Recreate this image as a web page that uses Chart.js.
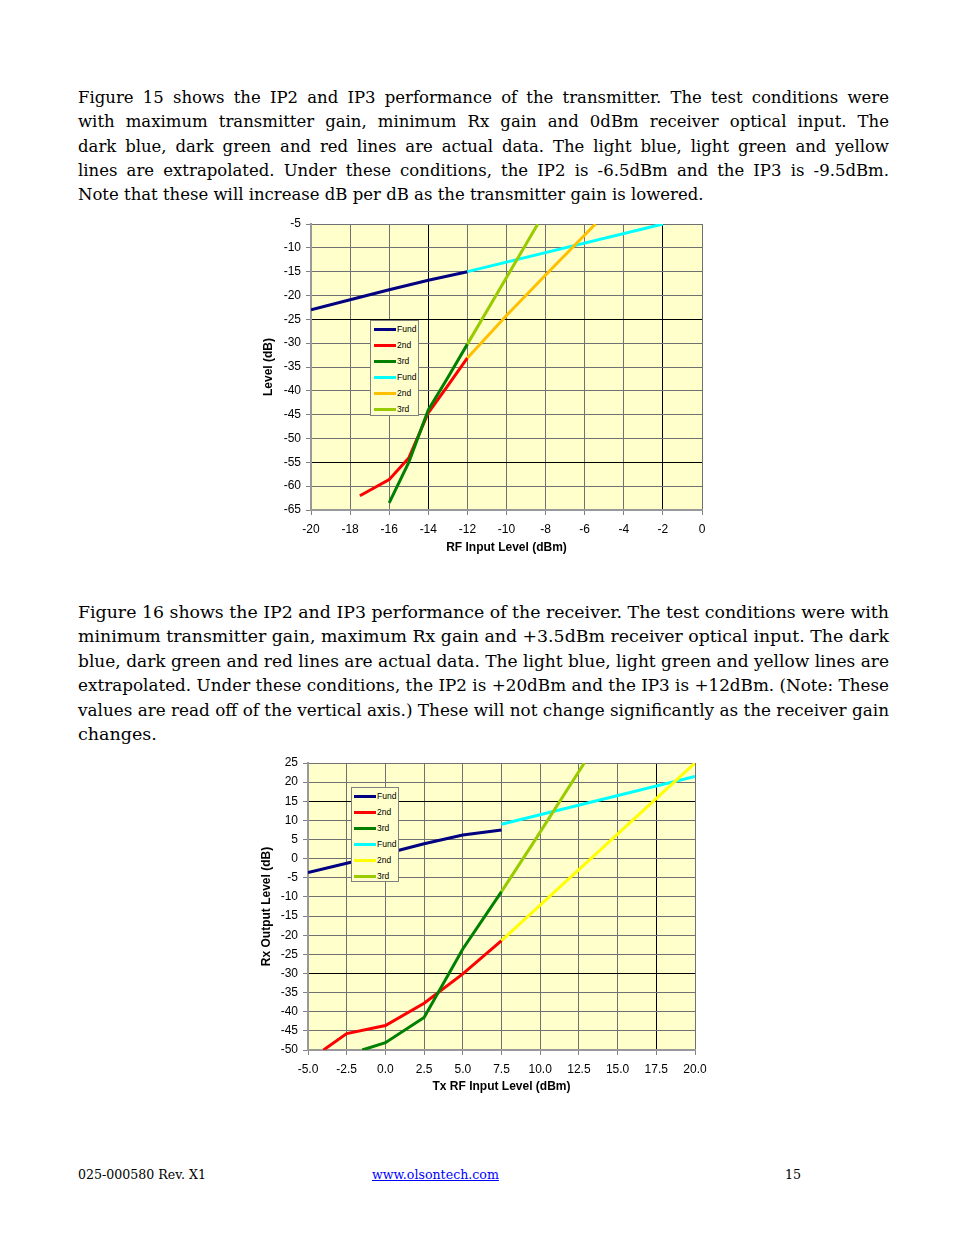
<!DOCTYPE html>
<html>
<head>
<meta charset="utf-8">
<script src="https://cdn.jsdelivr.net/npm/chart.js@4.4.1/dist/chart.umd.min.js"></script>
<style>
html, body { margin: 0; padding: 0; background: #fff; }
body { width: 954px; height: 1235px; position: relative; overflow: hidden; font-family: 'DejaVu Serif', serif; color: #000; }
.para { position: absolute; left: 78px; width: 811px; }
.ln { white-space: nowrap; }
.ln span { display: inline-block; transform-origin: 0 50%; }
.chartbox { position: absolute; }
.legend { position: absolute; background: #FFFFCC; border: 1px solid #808080; box-sizing: border-box;
  font-family: 'Liberation Sans', Arial, sans-serif; font-size: 8.5px; }
.legend div { height: 16px; display: flex; align-items: center; }
.legend i { display: inline-block; width: 22px; height: 3px; margin-right: 1px; }
.foot { position: absolute; top: 1167px; font-size: 12.6px; line-height: 16px; }
.foot a { color: #0000ff; }
</style>
</head>
<body>

<div class="para" id="p1" style="top:86px; font-size:16.5px; line-height:24.3px;">
  <div class="ln"><span>Figure 15 shows the IP2 and IP3 performance of the transmitter. The test conditions were</span></div>
  <div class="ln"><span>with maximum transmitter gain, minimum Rx gain and 0dBm receiver optical input. The</span></div>
  <div class="ln"><span>dark blue, dark green and red lines are actual data. The light blue, light green and yellow</span></div>
  <div class="ln"><span>lines are extrapolated. Under these conditions, the IP2 is -6.5dBm and the IP3 is -9.5dBm.</span></div>
  <div class="ln last"><span>Note that these will increase dB per dB as the transmitter gain is lowered.</span></div>
</div>

<div class="chartbox" style="left:258px; top:214px;"><canvas id="fig15" width="460" height="350"></canvas></div>
<div class="legend" id="leg15" style="left:370px; top:320px; width:49px; height:96px; padding-left:3px;"></div>

<div class="para" id="p2" style="top:600px; font-size:17.5px; line-height:24.4px;">
  <div class="ln"><span>Figure 16 shows the IP2 and IP3 performance of the receiver. The test conditions were with</span></div>
  <div class="ln"><span>minimum transmitter gain, maximum Rx gain and +3.5dBm receiver optical input. The dark</span></div>
  <div class="ln"><span>blue, dark green and red lines are actual data. The light blue, light green and yellow lines are</span></div>
  <div class="ln"><span>extrapolated. Under these conditions, the IP2 is +20dBm and the IP3 is +12dBm. (Note: These</span></div>
  <div class="ln"><span>values are read off of the vertical axis.) These will not change significantly as the receiver gain</span></div>
  <div class="ln last"><span>changes.</span></div>
</div>

<div class="chartbox" style="left:256px; top:752px;"><canvas id="fig16" width="456" height="348"></canvas></div>
<div class="legend" id="leg16" style="left:351px; top:787px; width:48px; height:95px; padding-left:2px;"></div>

<div class="foot" style="left:78px;">025-000580 Rev. X1</div>
<div class="foot" style="left:372px;"><a href="#">www.olsontech.com</a></div>
<div class="foot" style="left:785px;">15</div>

<script>
// ---- Figure 15 (transmitter) ----
const SERIES_LABELS = ['Fund', '2nd', '3rd', 'Fund', '2nd', '3rd'];

const TX_FUND_X = [-20, -18, -16, -15, -14, -13, -12];
const TX_FUND_Y = [-23, -20.9, -18.8, -17.8, -16.8, -15.9, -15];
const TX_2ND_X = [-17.5, -16, -15, -14, -13, -12];
const TX_2ND_Y = [-62, -58.6, -54.1, -44.6, -38.9, -33.1];
const TX_3RD_X = [-16, -15, -14, -13, -12];
const TX_3RD_Y = [-63.5, -55, -44, -37.2, -30.2];
const TX_FUND_EXT_X = [-12, -2];
const TX_FUND_EXT_Y = [-15, -5];
const TX_2ND_EXT_X = [-12, -10, -8, -5.45];
const TX_2ND_EXT_Y = [-33.1, -24.2, -15.7, -5];
const TX_3RD_EXT_X = [-12, -10, -8.4];
const TX_3RD_EXT_Y = [-30.2, -16.2, -5];

// ---- Figure 16 (receiver) ----
const RX_FUND_X = [-5, -2.5, 0, 2.5, 5, 7.5];
const RX_FUND_Y = [-3.6, -1.2, 1.3, 3.9, 6.2, 7.5];
const RX_2ND_X = [-4, -2.5, 0, 2.5, 5, 7.5];
const RX_2ND_Y = [-50, -45.7, -43.6, -37.8, -30.1, -21.4];
const RX_3RD_X = [-1.5, 0, 2.5, 5, 7.5];
const RX_3RD_Y = [-50, -48.1, -41.5, -23.6, -8.6];
const RX_FUND_EXT_X = [7.5, 20];
const RX_FUND_EXT_Y = [9, 21.5];
const RX_2ND_EXT_X = [7.5, 20];
const RX_2ND_EXT_Y = [-21.4, 25];
const RX_3RD_EXT_X = [7.5, 9.5, 12.85];
const RX_3RD_EXT_Y = [-8.6, 3.8, 25];

const TX_COLORS = ['#000080', '#FF0000', '#008000', '#00FFFF', '#FFC000', '#99CC00'];
const RX_COLORS = ['#000080', '#FF0000', '#008000', '#00FFFF', '#FFFF00', '#99CC00'];

Chart.defaults.font.family = "'Liberation Sans', Arial, sans-serif";
Chart.defaults.color = '#000';

const pts = (xs, ys) => xs.map((x, i) => ({ x, y: ys[i] }));

const plotBg = {
  id: 'plotBg',
  beforeDraw(chart) {
    const { ctx, chartArea: a } = chart;
    ctx.save();
    ctx.fillStyle = '#FFFFCC';
    ctx.fillRect(a.left, a.top, a.right - a.left, a.bottom - a.top);
    ctx.restore();
  }
};

function gridColor(dark) {
  return c => (c.tick && dark.includes(c.tick.value)) ? '#000' : '#707070';
}

function makeChart(id, series, colors, opt) {
  const datasets = series.map((s, i) => ({
    label: SERIES_LABELS[i],
    data: pts(s[0], s[1]),
    borderColor: colors[i],
    backgroundColor: colors[i],
    borderWidth: 3,
    pointRadius: 0,
    tension: 0,
    order: series.length - i
  }));

  new Chart(document.getElementById(id), {
    type: 'line',
    data: { datasets },
    plugins: [plotBg],
    options: {
      responsive: false,
      animation: false,
      devicePixelRatio: 1,
      layout: { padding: { top: opt.padTop, right: opt.padRight, left: 0, bottom: 0 } },
      plugins: { legend: { display: false }, tooltip: { enabled: false } },
      scales: {
        x: {
          type: 'linear',
          min: opt.xMin, max: opt.xMax,
          afterFit: s => { s.height = opt.xHeight; s.paddingLeft = 0; s.paddingRight = 0; },
          border: { color: '#999', width: 2 },
          grid: { color: gridColor(opt.darkX), tickColor: '#808080', tickLength: 5 },
          ticks: { stepSize: opt.xStep, autoSkip: false, maxRotation: 0, padding: 7,
                   font: { size: 12 }, callback: opt.xFmt },
          title: { display: true, text: opt.xTitle, font: { size: 12, weight: 'bold' },
                   padding: { top: 0, bottom: opt.xTitlePad } }
        },
        y: {
          min: opt.yMin, max: opt.yMax,
          afterFit: s => { s.width = opt.yWidth; s.paddingTop = 0; s.paddingBottom = 0; },
          border: { color: '#999', width: 2 },
          grid: { color: gridColor(opt.darkY), tickColor: '#808080', tickLength: 5 },
          ticks: { stepSize: 5, autoSkip: false, padding: 5, font: { size: 12 },
                   callback: v => String(v) },
          title: { display: true, text: opt.yTitle, font: { size: 12, weight: 'bold' },
                   padding: { top: opt.yTitlePad, bottom: 0 } }
        }
      }
    }
  });
}

function makeLegend(id, colors) {
  const box = document.getElementById(id);
  SERIES_LABELS.forEach((lab, i) => {
    const row = document.createElement('div');
    row.innerHTML = '<i style="background:' + colors[i] + '"></i>' + lab;
    box.appendChild(row);
  });
}

makeChart('fig15', [
  [TX_FUND_X, TX_FUND_Y], [TX_2ND_X, TX_2ND_Y], [TX_3RD_X, TX_3RD_Y],
  [TX_FUND_EXT_X, TX_FUND_EXT_Y], [TX_2ND_EXT_X, TX_2ND_EXT_Y], [TX_3RD_EXT_X, TX_3RD_EXT_Y]
], TX_COLORS, {
  xMin: -20, xMax: 0, xStep: 2, yMin: -65, yMax: -5,
  xFmt: v => String(v),
  xTitle: 'RF Input Level (dBm)', yTitle: 'Level (dB)',
  padTop: 10, padRight: 16, xHeight: 54, yWidth: 53, xTitlePad: 9, yTitlePad: 3,
  darkX: [-14, -2], darkY: [-25, -55]
});

makeChart('fig16', [
  [RX_FUND_X, RX_FUND_Y], [RX_2ND_X, RX_2ND_Y], [RX_3RD_X, RX_3RD_Y],
  [RX_FUND_EXT_X, RX_FUND_EXT_Y], [RX_2ND_EXT_X, RX_2ND_EXT_Y], [RX_3RD_EXT_X, RX_3RD_EXT_Y]
], RX_COLORS, {
  xMin: -5, xMax: 20, xStep: 2.5, yMin: -50, yMax: 25,
  xFmt: v => v.toFixed(1),
  xTitle: 'Tx RF Input Level (dBm)', yTitle: 'Rx Output Level (dB)',
  padTop: 11, padRight: 17, xHeight: 50, yWidth: 52, xTitlePad: 6, yTitlePad: 3,
  darkX: [17.5], darkY: [15, -30]
});

makeLegend('leg15', TX_COLORS);
makeLegend('leg16', RX_COLORS);

// justify each text line to the column width
const COL_W = 811;
document.querySelectorAll('.ln').forEach(ln => {
  const sp = ln.firstElementChild;
  const w = sp.getBoundingClientRect().width;
  if (w > COL_W) {
    sp.style.transform = 'scaleX(' + (COL_W / w) + ')';
  } else if (!ln.classList.contains('last')) {
    const gaps = (sp.textContent.match(/ /g) || []).length;
    if (gaps) sp.style.wordSpacing = ((COL_W - w) / gaps) + 'px';
  }
});
</script>
</body>
</html>
